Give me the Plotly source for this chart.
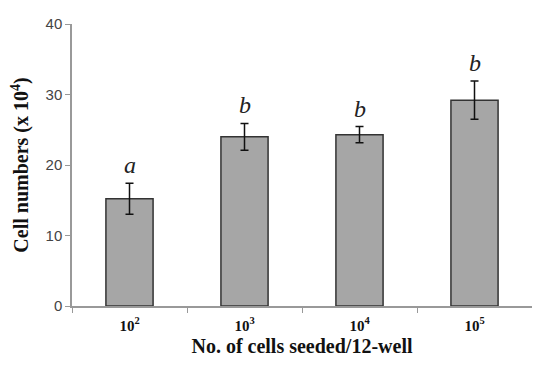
import plotly.graph_objects as go

categories = ["10<sup>2</sup>", "10<sup>3</sup>", "10<sup>4</sup>", "10<sup>5</sup>"]
values = [15.2, 24.0, 24.3, 29.2]
errors = [2.2, 1.9, 1.15, 2.7]
letters = ["a", "b", "b", "b"]
y_ticks = [0, 10, 20, 30, 40]

fig = go.Figure()
fig.add_trace(go.Bar(
    x=categories, y=values, width=0.41,
    marker=dict(color="#a6a6a6", line=dict(color="#333333", width=1.5)),
    error_y=dict(type="data", array=errors, color="#111111", thickness=1.5, width=4),
))

for c, v, e, l in zip(categories, values, errors, letters):
    fig.add_annotation(x=c, y=v + e, text=l, showarrow=False, yanchor="bottom", yshift=3,
                       font=dict(family="Liberation Serif", size=24, color="#222222", style="italic"))

fig.update_layout(
    width=524, height=349,
    margin=dict(l=64, r=0, t=16, b=51),
    plot_bgcolor="white", paper_bgcolor="white",
    showlegend=False,
    font=dict(family="Liberation Serif", color="#222222"),
)
fig.update_xaxes(
    type="category", range=[-0.5, 3.5], tickson="boundaries",
    ticks="outside", ticklen=5, tickcolor="#999999", tickwidth=1,
    showline=True, linecolor="#999999", linewidth=1.5,
    showgrid=False, automargin=False, ticklabelstandoff=5,
    tickfont=dict(family="Liberation Serif", size=15, color="#111111", weight="bold"),
    title=dict(text="No. of cells seeded/12-well", standoff=11,
               font=dict(family="Liberation Serif", size=20, color="#111111", weight="bold")),
)
fig.update_yaxes(
    range=[0, 40], tickvals=y_ticks,
    ticks="outside", ticklen=5, tickcolor="#999999",
    showline=True, linecolor="#999999", linewidth=1.5,
    showgrid=False, zeroline=False,
    tickfont=dict(family="Liberation Sans", size=15, color="#444444"),
    title=dict(text="Cell numbers (x 10<sup>4</sup>)", standoff=14,
               font=dict(family="Liberation Serif", size=20, color="#111111", weight="bold")),
)

fig.write_html("out.html")
